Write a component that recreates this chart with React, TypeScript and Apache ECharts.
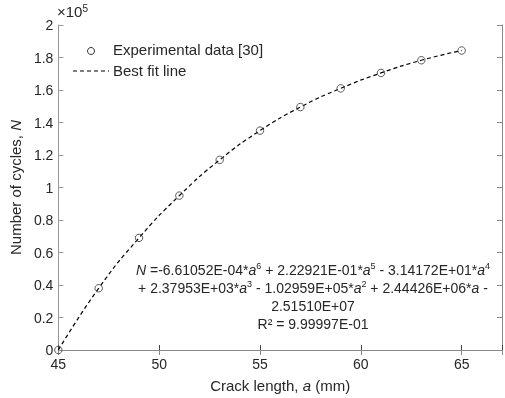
import React, { useEffect, useRef } from "react";
import * as echarts from "echarts";

const crackLength = [45, 47, 49, 51, 53, 55, 57, 59, 61, 63, 65];
const cycles = [0, 38000, 69000, 95000, 117000, 135000, 149500, 161000, 170500, 178300, 184300];
const xTicks = [45, 50, 55, 60, 65];
const legendNames = ["Experimental data [30]", "Best fit line"];
const eqLines = [
  "{i|N} =-6.61052E-04*{i|a}{s|6} + 2.22921E-01*{i|a}{s|5} - 3.14172E+01*{i|a}{s|4}",
  "+ 2.37953E+03*{i|a}{s|3} - 1.02959E+05*{i|a}{s|2} + 2.44426E+06*{i|a} -",
  "2.51510E+07",
  "R² = 9.99997E-01",
];

const FONT = "'Liberation Sans', Arial, sans-serif";
const TXT = "#262626";

export default function App() {
  const ref = useRef<HTMLDivElement>(null);
  useEffect(() => {
    document.body.style.margin = "0";
    const chart = echarts.init(ref.current!, null, { renderer: "svg" });
    const pts = crackLength.map((x, i) => [x, cycles[i]]);
    const axisCommon = (color: string) => ({
      axisLine: { show: true, lineStyle: { color, width: 1 } },
      axisTick: { show: true, inside: true, length: 5, lineStyle: { color } },
      splitLine: { show: false },
    });
    const EQ = 14;
    const rich = {
      i: { fontSize: EQ, fontFamily: FONT, color: TXT, fontStyle: "italic" },
      s: { fontSize: 9, fontFamily: FONT, color: TXT, verticalAlign: "top", padding: [0, 0, 6, 0] },
    };
    const nameRich = {
      n: { fontSize: 15, fontFamily: FONT, color: TXT },
      i: { fontSize: 15, fontFamily: FONT, color: TXT, fontStyle: "italic" },
    };
    chart.setOption({
      animation: false,
      textStyle: { fontFamily: FONT, color: TXT },
      grid: { left: 55, top: 25, width: 452.6, height: 328, containLabel: false },
      xAxis: [
        {
          type: "value",
          min: 45,
          max: 67,
          interval: 5,
          ...axisCommon("#444"),
          axisLabel: {
            color: TXT,
            fontSize: 14,
            fontFamily: FONT,
            margin: 7,
            formatter: (v: number) => (xTicks.includes(v) ? String(v) : ""),
          },
          name: "{n|Crack length, }{i|a}{n| (mm)}",
          nameLocation: "middle",
          nameGap: 28,
          nameTextStyle: { rich: nameRich },
        },
        {
          type: "value",
          position: "top",
          min: 45,
          max: 67,
          interval: 5,
          ...axisCommon("#888"),
          axisLabel: { show: false },
        },
      ],
      yAxis: [
        {
          type: "value",
          min: 0,
          max: 200000,
          interval: 20000,
          ...axisCommon("#999"),
          axisLabel: {
            color: TXT,
            fontSize: 14,
            fontFamily: FONT,
            margin: 5,
            formatter: (v: number) => String(parseFloat((v / 1e5).toFixed(1))),
          },
          name: "{n|Number of cycles, }{i|N}",
          nameLocation: "middle",
          nameGap: 28,
          nameTextStyle: { rich: nameRich },
        },
        {
          type: "value",
          position: "right",
          min: 0,
          max: 200000,
          interval: 20000,
          ...axisCommon("#888"),
          axisLabel: { show: false },
        },
      ],
      series: [
        {
          name: legendNames[1],
          type: "line",
          data: pts,
          smooth: true,
          symbol: "none",
          lineStyle: { color: "#000", width: 1.2, type: [4, 3] },
          z: 2,
        },
        {
          name: legendNames[0],
          type: "scatter",
          data: pts,
          symbol: "circle",
          symbolSize: 7.5,
          itemStyle: { color: "rgba(255,255,255,0)", borderColor: "#333", borderWidth: 1 },
          z: 3,
        },
      ],
      graphic: [
        {
          type: "text",
          left: 57,
          top: 3,
          style: { text: "×10{s|5}", fontSize: 15, fontFamily: FONT, fill: TXT, rich: { s: { fontSize: 10, fontFamily: FONT, color: TXT, verticalAlign: "top", padding: [0, 0, 7, 0] } } },
        },
        { type: "circle", shape: { cx: 91, cy: 51, r: 3.5 }, style: { fill: "#fff", stroke: "#333", lineWidth: 1 } },
        { type: "text", left: 113, top: 42, style: { text: legendNames[0], fontSize: 15, fontFamily: FONT, fill: TXT } },
        { type: "line", shape: { x1: 73, y1: 71, x2: 109, y2: 71 }, style: { stroke: "#000", lineWidth: 1.2, lineDash: [4, 3] } },
        { type: "text", left: 113, top: 63, style: { text: legendNames[1], fontSize: 15, fontFamily: FONT, fill: TXT } },
        {
          type: "text",
          x: 313,
          y: 261,
          style: {
            text: eqLines.join("\n"),
            align: "center",
            verticalAlign: "top",
            lineHeight: 18,
            fontSize: EQ,
            fontFamily: FONT,
            fill: TXT,
            rich,
          },
        },
      ],
    });
    return () => chart.dispose();
  }, []);
  return <div ref={ref} style={{ position: "fixed", left: 0, top: 0, width: 505, height: 398 }} />;
}
